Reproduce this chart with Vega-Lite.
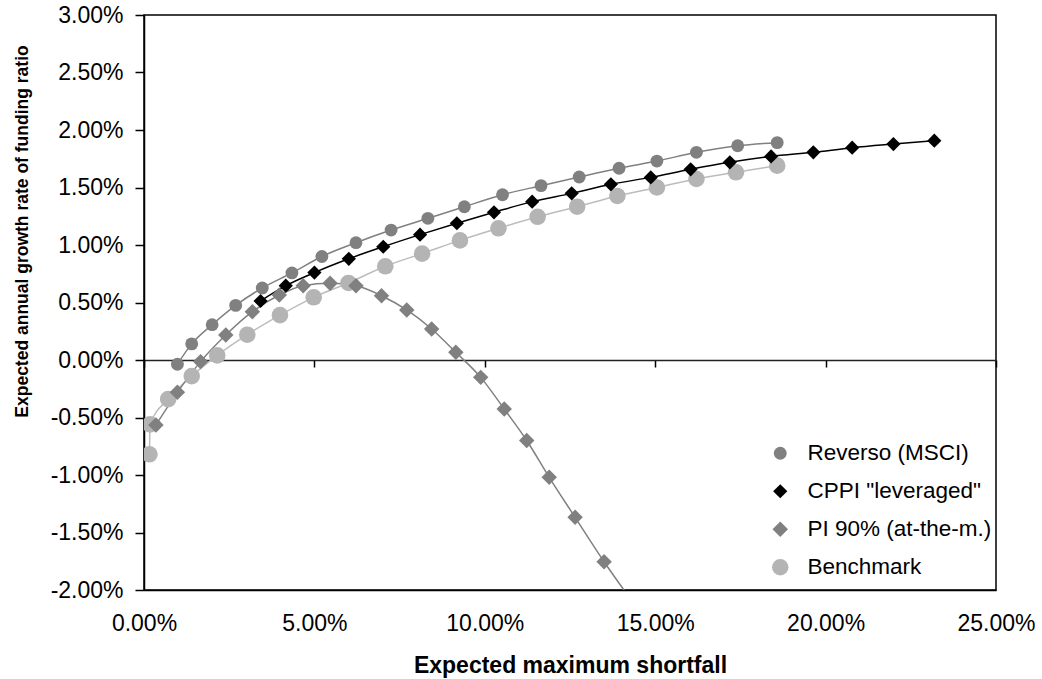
{
  "$schema": "https://vega.github.io/schema/vega-lite/v6.json",
  "width": 852,
  "height": 575,
  "autosize": {"type": "none"},
  "padding": {"left": 144, "top": 15, "right": 46, "bottom": 89},
  "background": "white",
  "config": {
    "view": {"stroke": "#000", "strokeWidth": 1.5},
    "font": "Liberation Sans",
    "axis": {"grid": false, "labelColor": "#000", "titleColor": "#000", "domainColor": "#000", "tickColor": "#000", "domainWidth": 1.5, "tickWidth": 1.5, "labelFont": "Liberation Sans", "titleFont": "Liberation Sans", "labelFontSize": 23, "labelFlush": false, "labelOverlap": false},
    "legend": {"labelFont": "Liberation Sans", "labelLimit": 0, "labelColor": "#000"}
  },
  "data": {
    "values": [
      {"series": "Benchmark", "x": 0.16, "y": -0.82},
      {"series": "Benchmark", "x": 0.18, "y": -0.56},
      {"series": "Benchmark", "x": 0.71, "y": -0.34},
      {"series": "Benchmark", "x": 1.40, "y": -0.14},
      {"series": "Benchmark", "x": 2.15, "y": 0.04},
      {"series": "Benchmark", "x": 3.03, "y": 0.22},
      {"series": "Benchmark", "x": 3.99, "y": 0.39},
      {"series": "Benchmark", "x": 4.98, "y": 0.545},
      {"series": "Benchmark", "x": 6.00, "y": 0.67},
      {"series": "Benchmark", "x": 7.08, "y": 0.815},
      {"series": "Benchmark", "x": 8.16, "y": 0.925},
      {"series": "Benchmark", "x": 9.27, "y": 1.04},
      {"series": "Benchmark", "x": 10.40, "y": 1.145},
      {"series": "Benchmark", "x": 11.55, "y": 1.245},
      {"series": "Benchmark", "x": 12.71, "y": 1.333},
      {"series": "Benchmark", "x": 13.89, "y": 1.426},
      {"series": "Benchmark", "x": 15.05, "y": 1.50},
      {"series": "Benchmark", "x": 16.21, "y": 1.574},
      {"series": "Benchmark", "x": 17.37, "y": 1.632},
      {"series": "Benchmark", "x": 18.58, "y": 1.69},
      {"series": "PI 90% (at-the-m.)", "x": 0.35, "y": -0.565},
      {"series": "PI 90% (at-the-m.)", "x": 0.98, "y": -0.281},
      {"series": "PI 90% (at-the-m.)", "x": 1.66, "y": -0.014},
      {"series": "PI 90% (at-the-m.)", "x": 2.40, "y": 0.217},
      {"series": "PI 90% (at-the-m.)", "x": 3.18, "y": 0.42},
      {"series": "PI 90% (at-the-m.)", "x": 3.97, "y": 0.565},
      {"series": "PI 90% (at-the-m.)", "x": 4.67, "y": 0.646},
      {"series": "PI 90% (at-the-m.)", "x": 5.46, "y": 0.667},
      {"series": "PI 90% (at-the-m.)", "x": 6.22, "y": 0.646},
      {"series": "PI 90% (at-the-m.)", "x": 6.97, "y": 0.559},
      {"series": "PI 90% (at-the-m.)", "x": 7.71, "y": 0.435},
      {"series": "PI 90% (at-the-m.)", "x": 8.44, "y": 0.27},
      {"series": "PI 90% (at-the-m.)", "x": 9.15, "y": 0.067},
      {"series": "PI 90% (at-the-m.)", "x": 9.88, "y": -0.151},
      {"series": "PI 90% (at-the-m.)", "x": 10.57, "y": -0.426},
      {"series": "PI 90% (at-the-m.)", "x": 11.23, "y": -0.70},
      {"series": "PI 90% (at-the-m.)", "x": 11.89, "y": -1.02},
      {"series": "PI 90% (at-the-m.)", "x": 12.65, "y": -1.368},
      {"series": "PI 90% (at-the-m.)", "x": 13.50, "y": -1.754},
      {"series": "PI 90% (at-the-m.)", "x": 14.45, "y": -2.15},
      {"series": "CPPI \"leveraged\"", "x": 3.42, "y": 0.513},
      {"series": "CPPI \"leveraged\"", "x": 4.16, "y": 0.646},
      {"series": "CPPI \"leveraged\"", "x": 5.00, "y": 0.76},
      {"series": "CPPI \"leveraged\"", "x": 6.01, "y": 0.88},
      {"series": "CPPI \"leveraged\"", "x": 7.02, "y": 0.985},
      {"series": "CPPI \"leveraged\"", "x": 8.10, "y": 1.09},
      {"series": "CPPI \"leveraged\"", "x": 9.18, "y": 1.189},
      {"series": "CPPI \"leveraged\"", "x": 10.27, "y": 1.284},
      {"series": "CPPI \"leveraged\"", "x": 11.39, "y": 1.377},
      {"series": "CPPI \"leveraged\"", "x": 12.55, "y": 1.449},
      {"series": "CPPI \"leveraged\"", "x": 13.70, "y": 1.528},
      {"series": "CPPI \"leveraged\"", "x": 14.87, "y": 1.588},
      {"series": "CPPI \"leveraged\"", "x": 16.04, "y": 1.658},
      {"series": "CPPI \"leveraged\"", "x": 17.19, "y": 1.719},
      {"series": "CPPI \"leveraged\"", "x": 18.40, "y": 1.77},
      {"series": "CPPI \"leveraged\"", "x": 19.64, "y": 1.806},
      {"series": "CPPI \"leveraged\"", "x": 20.78, "y": 1.846},
      {"series": "CPPI \"leveraged\"", "x": 21.99, "y": 1.878},
      {"series": "CPPI \"leveraged\"", "x": 23.19, "y": 1.907},
      {"series": "Reverso (MSCI)", "x": 0.98, "y": -0.037},
      {"series": "Reverso (MSCI)", "x": 1.40, "y": 0.14},
      {"series": "Reverso (MSCI)", "x": 2.00, "y": 0.307},
      {"series": "Reverso (MSCI)", "x": 2.69, "y": 0.475},
      {"series": "Reverso (MSCI)", "x": 3.47, "y": 0.626},
      {"series": "Reverso (MSCI)", "x": 4.34, "y": 0.757},
      {"series": "Reverso (MSCI)", "x": 5.22, "y": 0.90},
      {"series": "Reverso (MSCI)", "x": 6.22, "y": 1.02},
      {"series": "Reverso (MSCI)", "x": 7.25, "y": 1.13},
      {"series": "Reverso (MSCI)", "x": 8.33, "y": 1.232},
      {"series": "Reverso (MSCI)", "x": 9.40, "y": 1.333},
      {"series": "Reverso (MSCI)", "x": 10.52, "y": 1.437},
      {"series": "Reverso (MSCI)", "x": 11.65, "y": 1.516},
      {"series": "Reverso (MSCI)", "x": 12.77, "y": 1.591},
      {"series": "Reverso (MSCI)", "x": 13.94, "y": 1.667},
      {"series": "Reverso (MSCI)", "x": 15.05, "y": 1.730},
      {"series": "Reverso (MSCI)", "x": 16.21, "y": 1.806},
      {"series": "Reverso (MSCI)", "x": 17.42, "y": 1.863},
      {"series": "Reverso (MSCI)", "x": 18.58, "y": 1.89}
    ]
  },
  "encoding": {
    "y": {"field": "y", "type": "quantitative", "scale": {"domain": [-2, 3], "nice": false, "zero": false},
      "axis": {"values": [-2, -1.5, -1, -0.5, 0, 0.5, 1, 1.5, 2, 2.5, 3], "labelExpr": "(datum.value < 0 ? '-' : '') + format(abs(datum.value), '.2f') + '%'", "tickSize": 9, "labelPadding": 12, "labelFontSize": 23, "title": "Expected annual growth rate of funding ratio", "titleFontSize": 17.5, "titleFontWeight": "bold", "titleX": -122, "titleY": 216, "titleAlign": "center", "titleBaseline": "middle"}}
  },
  "layer": [
    {
      "mark": {"type": "line", "interpolate": "monotone", "strokeWidth": 1.5, "clip": true},
      "encoding": {
        "x": {"field": "x", "type": "quantitative", "scale": {"domain": [0, 25], "nice": false, "zero": false},
          "axis": {"orient": "bottom", "offset": -230, "values": [0, 5, 10, 15, 20, 25], "labels": false, "ticks": true, "tickSize": 7, "domain": true, "domainColor": "#222", "domainWidth": 1.5, "title": null}},
        "stroke": {"field": "series", "type": "nominal", "legend": null,
          "scale": {"range": ["#bcbcbc", "#000000", "#808080", "#808080"]}}
      }
    },
    {
      "mark": {"type": "point", "filled": true, "opacity": 1, "clip": true},
      "encoding": {
        "x": {"field": "x", "type": "quantitative",
          "axis": {"orient": "bottom", "values": [0, 5, 10, 15, 20, 25], "labelExpr": "format(datum.value, '.2f') + '%'", "ticks": false, "labelPadding": 22, "labelFontSize": 23, "labelFlush": false, "title": "Expected maximum shortfall", "titleFontSize": 23, "titleFontWeight": "bold", "titleY": 82, "titleBaseline": "alphabetic"}},
        "color": {"field": "series", "type": "nominal", "title": null,
          "scale": {"domain": ["Reverso (MSCI)", "CPPI \"leveraged\"", "PI 90% (at-the-m.)", "Benchmark"], "range": ["#808080", "#000000", "#808080", "#b4b4b4"]},
          "legend": {"orient": "none", "legendX": 625, "legendY": 427, "labelFontSize": 22.5, "labelLimit": 0, "rowPadding": 15, "labelOffset": 16, "symbolStrokeWidth": 0, "title": null}},
        "shape": {"field": "series", "type": "nominal", "title": null,
          "scale": {"domain": ["Reverso (MSCI)", "CPPI \"leveraged\"", "PI 90% (at-the-m.)", "Benchmark"], "range": ["circle", "diamond", "diamond", "circle"]}},
        "size": {"field": "series", "type": "nominal", "title": null,
          "scale": {"domain": ["Reverso (MSCI)", "CPPI \"leveraged\"", "PI 90% (at-the-m.)", "Benchmark"], "range": [165, 275, 255, 165]}}
      }
    }
  ],
  "resolve": {"axis": {"x": "independent"}}
}
